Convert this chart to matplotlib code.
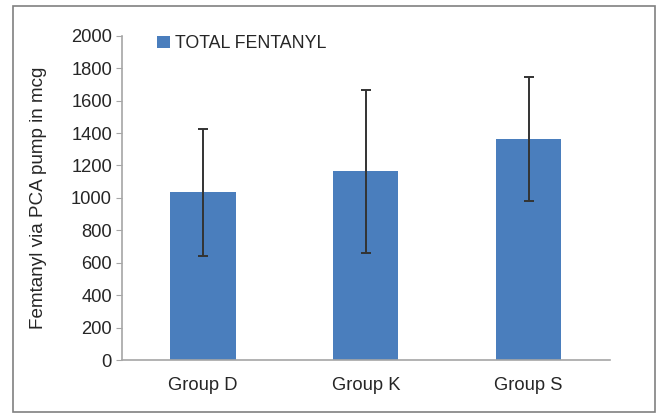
import matplotlib.pyplot as plt
from matplotlib.patches import Rectangle

groups = ['Group D', 'Group K', 'Group S']
total_fentanyl = [1035, 1165, 1362]
sd = [392, 502, 383]

plt.rcParams['font.family'] = ['Liberation Sans', 'DejaVu Sans']
txt = '#262626'
grey = '#a6a6a6'

fig = plt.figure(figsize=(6.61, 4.13), dpi=100)
ax = fig.add_axes([0.184, 0.128, 0.739, 0.7856])

x = range(len(groups))
ax.bar(x, total_fentanyl, width=0.4, color='#4a7ebd', label='TOTAL FENTANYL', zorder=2)
ax.errorbar(x, total_fentanyl, yerr=sd, fmt='none', ecolor='#333333',
            elinewidth=1.4, capsize=3.5, capthick=1.4, zorder=3)

ax.set_xlim(-0.5, 2.5)
ax.set_ylim(0, 2000)
ax.set_yticks(range(0, 2001, 200))
ax.set_xticks(list(x))
ax.set_xticklabels(groups)
ax.tick_params(axis='y', length=4, color=grey, labelsize=13.2, labelcolor=txt, pad=3)
ax.tick_params(axis='x', length=0, labelsize=13.2, labelcolor=txt, pad=12)
for s in ['top', 'right']:
    ax.spines[s].set_visible(False)
for s in ['left', 'bottom']:
    ax.spines[s].set_color(grey)
    ax.spines[s].set_linewidth(1.2)

ax.set_ylabel('Femtanyl via PCA pump in mcg', fontsize=13.6, color=txt, labelpad=17)

leg = ax.legend(loc='upper left', bbox_to_anchor=(0.04, 1.05), frameon=False,
                handlelength=0.7, handleheight=0.7, handletextpad=0.3,
                fontsize=12.8, labelcolor=txt)

# outer border
fig.patches.append(Rectangle((13 / 661, 1 / 413), 642 / 661, 406 / 413,
                             transform=fig.transFigure, fill=False,
                             edgecolor='#808080', linewidth=1.2))

plt.savefig('out.png', dpi=100)
